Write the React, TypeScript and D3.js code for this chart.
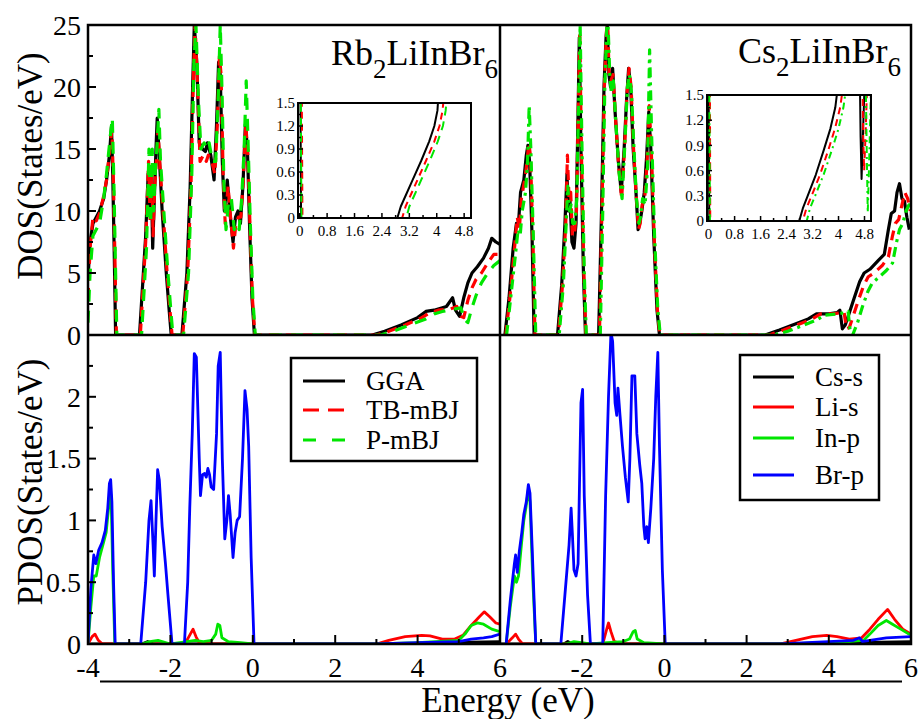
import * as d3 from "d3";

// ---- data ----
type Pt = [number, number];

const rbGGA: Pt[] = [
  [-4.0, 4.5], [-3.95, 7.5], [-3.88, 9.0], [-3.8, 9.5], [-3.72, 10.0], [-3.62, 11.0], [-3.55, 12.5], [-3.48, 14.5], [-3.43, 16.8], [-3.4, 13], [-3.36, 6], [-3.33, 0],
  [-2.75, 0], [-2.6, 8], [-2.54, 13], [-2.5, 10], [-2.46, 12], [-2.43, 7], [-2.39, 11], [-2.35, 15], [-2.32, 17.5], [-2.28, 15], [-2.2, 10], [-2.1, 5], [-2.03, 2], [-1.98, 0],
  [-1.72, 0], [-1.6, 5], [-1.52, 12], [-1.46, 20], [-1.42, 25], [-1.36, 22], [-1.3, 15.5], [-1.22, 15], [-1.15, 14.8], [-1.1, 15.5], [-1.02, 14.5], [-0.94, 12.5], [-0.88, 17], [-0.83, 22], [-0.79, 21], [-0.74, 14], [-0.69, 10], [-0.62, 12.5], [-0.56, 10], [-0.48, 7.5], [-0.42, 9.5], [-0.36, 10], [-0.3, 9], [-0.24, 12], [-0.18, 17], [-0.13, 15], [-0.08, 9], [-0.02, 3], [0.04, 0],
  [2.9, 0], [3.2, 0.3], [3.6, 0.8], [4.0, 1.4], [4.2, 1.9], [4.4, 2.0], [4.7, 2.3], [4.85, 3.0], [4.92, 2.0], [5.02, 1.5], [5.12, 3.0], [5.22, 4.2], [5.32, 5.0], [5.45, 5.5], [5.6, 6.2], [5.72, 7.0], [5.8, 7.8], [5.9, 7.5], [6.0, 7.3],
];
const rbTB: Pt[] = [
  [-4.0, 3], [-3.95, 7], [-3.88, 9.5], [-3.8, 9.2], [-3.72, 9.8], [-3.62, 11.2], [-3.55, 12.5], [-3.47, 15], [-3.42, 16.5], [-3.38, 12], [-3.34, 5], [-3.31, 0],
  [-2.73, 0], [-2.6, 7.5], [-2.53, 14], [-2.49, 9], [-2.45, 13.5], [-2.42, 8], [-2.38, 12], [-2.34, 14], [-2.3, 16.5], [-2.26, 14], [-2.18, 10], [-2.08, 5], [-2.01, 2], [-1.96, 0],
  [-1.7, 0], [-1.58, 5], [-1.5, 12], [-1.44, 21], [-1.4, 25], [-1.34, 20], [-1.28, 14], [-1.2, 14.5], [-1.13, 14], [-1.08, 14.5], [-1.0, 14], [-0.92, 13], [-0.86, 17], [-0.81, 22.5], [-0.77, 21], [-0.72, 13], [-0.67, 9], [-0.6, 12], [-0.54, 9.5], [-0.47, 7], [-0.41, 9], [-0.35, 9.5], [-0.29, 9.5], [-0.23, 12.5], [-0.17, 17], [-0.12, 14.5], [-0.07, 9], [-0.01, 3], [0.05, 0],
  [3.0, 0], [3.3, 0.3], [3.7, 0.8], [4.1, 1.4], [4.3, 1.8], [4.5, 2.0], [4.8, 2.1], [4.95, 2.3], [5.05, 1.5], [5.12, 1.4], [5.22, 2.8], [5.32, 3.8], [5.42, 4.5], [5.55, 5.0], [5.7, 5.8], [5.85, 6.5], [6.0, 6.5],
];
const rbPM: Pt[] = [
  [-4.0, 1], [-3.95, 5], [-3.88, 8], [-3.8, 8.5], [-3.72, 9.0], [-3.62, 11], [-3.55, 13], [-3.46, 16], [-3.41, 17.5], [-3.37, 12], [-3.33, 5], [-3.3, 0],
  [-2.7, 0], [-2.58, 7], [-2.52, 15], [-2.48, 9], [-2.44, 15], [-2.41, 10], [-2.37, 13], [-2.32, 15.5], [-2.28, 18.2], [-2.24, 14], [-2.16, 10], [-2.06, 5], [-1.99, 2], [-1.94, 0],
  [-1.68, 0], [-1.56, 5], [-1.48, 13], [-1.43, 22], [-1.38, 25], [-1.32, 19], [-1.26, 15], [-1.18, 15.5], [-1.11, 15], [-1.06, 15.5], [-0.98, 14], [-0.9, 14], [-0.84, 19], [-0.79, 25], [-0.75, 20], [-0.7, 12], [-0.65, 8.5], [-0.58, 11], [-0.52, 11], [-0.45, 8.5], [-0.39, 9], [-0.33, 8.5], [-0.27, 11], [-0.21, 15], [-0.16, 20.5], [-0.11, 15], [-0.06, 9], [0.0, 3], [0.06, 0],
  [3.1, 0], [3.4, 0.3], [3.8, 0.8], [4.2, 1.3], [4.4, 1.7], [4.6, 1.9], [4.9, 2.1], [5.05, 2.2], [5.15, 1.2], [5.22, 1.0], [5.32, 2.2], [5.42, 3.2], [5.55, 4.2], [5.7, 5.0], [5.85, 5.6], [6.0, 6.0],
];

const csGGA: Pt[] = [
  [-3.88, 0], [-3.78, 3], [-3.68, 7], [-3.6, 9], [-3.55, 9], [-3.5, 11.5], [-3.42, 12.5], [-3.36, 14.5], [-3.32, 15.3], [-3.28, 14], [-3.22, 8], [-3.17, 0],
  [-2.6, 0], [-2.5, 4], [-2.42, 9], [-2.37, 13], [-2.34, 10], [-2.3, 11], [-2.25, 7.5], [-2.2, 7], [-2.15, 9], [-2.1, 18], [-2.07, 24], [-2.03, 15], [-1.97, 5], [-1.92, 0],
  [-1.6, 0], [-1.53, 10], [-1.47, 20], [-1.42, 24], [-1.39, 25], [-1.35, 21], [-1.31, 20], [-1.26, 21.5], [-1.2, 18], [-1.12, 14], [-1.05, 11.5], [-0.98, 15], [-0.92, 19], [-0.87, 21.5], [-0.82, 20], [-0.76, 15], [-0.7, 12], [-0.64, 8.5], [-0.6, 9], [-0.55, 10], [-0.49, 11.5], [-0.43, 14.5], [-0.38, 18], [-0.33, 15], [-0.26, 8], [-0.18, 2], [-0.12, 0],
  [2.45, 0], [2.8, 0.4], [3.2, 0.9], [3.5, 1.3], [3.7, 1.7], [4.0, 1.7], [4.2, 1.8], [4.27, 2.0], [4.33, 0.5], [4.4, 0.8], [4.5, 1.8], [4.62, 3.0], [4.75, 4.3], [4.86, 5.0], [5.0, 5.3], [5.2, 6.0], [5.35, 6.5], [5.45, 8.5], [5.52, 9.8], [5.6, 10], [5.66, 11.5], [5.72, 12.2], [5.78, 11], [5.84, 10.8], [5.9, 9.5], [5.96, 8.5],
];
const csTB: Pt[] = [
  [-3.86, 0], [-3.76, 3], [-3.66, 6.5], [-3.58, 9.5], [-3.53, 8.5], [-3.48, 11], [-3.4, 12.5], [-3.34, 14], [-3.3, 15.5], [-3.26, 14.5], [-3.2, 8], [-3.15, 0],
  [-2.58, 0], [-2.48, 4], [-2.4, 9], [-2.36, 14.5], [-2.32, 11], [-2.28, 11.5], [-2.24, 8], [-2.19, 8], [-2.14, 10], [-2.09, 19], [-2.06, 24.5], [-2.02, 15], [-1.96, 5], [-1.91, 0],
  [-1.58, 0], [-1.52, 10], [-1.46, 20], [-1.41, 24.5], [-1.38, 25], [-1.34, 20.5], [-1.3, 20.5], [-1.25, 21], [-1.19, 17.5], [-1.11, 13.5], [-1.04, 11], [-0.97, 15], [-0.91, 19.5], [-0.86, 21.5], [-0.81, 20], [-0.75, 15], [-0.69, 11.5], [-0.63, 8.5], [-0.59, 9], [-0.54, 10.5], [-0.48, 11], [-0.42, 14], [-0.37, 18.5], [-0.32, 15], [-0.25, 8], [-0.17, 2], [-0.11, 0],
  [2.55, 0], [2.9, 0.4], [3.3, 0.9], [3.6, 1.3], [3.8, 1.7], [4.1, 1.7], [4.3, 1.8], [4.37, 1.9], [4.43, 0.5], [4.5, 0.6], [4.6, 1.6], [4.72, 2.8], [4.85, 4.0], [4.96, 4.7], [5.1, 5.0], [5.3, 5.6], [5.45, 6.3], [5.55, 8.0], [5.62, 9.0], [5.7, 9.3], [5.78, 10.5], [5.85, 11.5], [5.92, 11.0], [5.98, 10.0],
];
const csPM: Pt[] = [
  [-3.84, 0], [-3.74, 3], [-3.64, 6], [-3.56, 8.5], [-3.51, 8], [-3.46, 10], [-3.38, 11.5], [-3.33, 14], [-3.29, 18.5], [-3.25, 15], [-3.19, 8], [-3.13, 0],
  [-2.56, 0], [-2.46, 4], [-2.39, 9], [-2.35, 12], [-2.31, 10], [-2.27, 10.5], [-2.23, 9], [-2.18, 9], [-2.13, 11], [-2.08, 20], [-2.05, 25], [-2.01, 16], [-1.95, 5], [-1.9, 0],
  [-1.56, 0], [-1.5, 10], [-1.45, 20], [-1.4, 25], [-1.37, 25], [-1.33, 21], [-1.29, 19.5], [-1.24, 20.5], [-1.18, 17], [-1.1, 13], [-1.03, 11], [-0.96, 15.5], [-0.9, 20], [-0.85, 21], [-0.8, 19.5], [-0.74, 15], [-0.68, 11], [-0.62, 9], [-0.58, 9.5], [-0.53, 11], [-0.47, 10.5], [-0.41, 13.5], [-0.36, 23], [-0.31, 16], [-0.24, 8], [-0.16, 2], [-0.1, 0],
  [2.65, 0], [3.0, 0.3], [3.4, 0.8], [3.7, 1.2], [3.9, 1.6], [4.2, 1.7], [4.4, 1.8], [4.47, 1.9], [4.52, 0.3], [4.58, 0], [4.7, 1.0], [4.82, 2.3], [4.95, 3.5], [5.06, 4.2], [5.2, 4.6], [5.4, 5.2], [5.55, 5.8], [5.65, 7.5], [5.72, 8.5], [5.8, 9.0], [5.88, 10.0], [5.95, 10.5], [6.0, 10.2],
];

// insets (band-gap zoom)
const rbInGGA: Pt[] = [[0.02, 1.7], [0.04, 0], [2.85, 0], [2.95, 0.15], [3.1, 0.3], [3.3, 0.5], [3.55, 0.75], [3.78, 1.0], [3.93, 1.2], [4.02, 1.4], [4.05, 1.6]];
const rbInTB: Pt[] = [[0.06, 1.7], [0.08, 0], [2.99, 0], [3.09, 0.15], [3.24, 0.3], [3.44, 0.5], [3.69, 0.75], [3.93, 1.0], [4.08, 1.2], [4.17, 1.4], [4.21, 1.6]];
const rbInPM: Pt[] = [[0.03, 1.7], [0.05, 0], [3.11, 0], [3.2, 0.15], [3.35, 0.3], [3.55, 0.5], [3.8, 0.75], [4.03, 1.0], [4.18, 1.2], [4.26, 1.4], [4.3, 1.6]];
const csInGGA: Pt[] = [[0.0, 1.7], [0.02, 0], [2.79, 0], [2.9, 0.15], [3.05, 0.3], [3.3, 0.55], [3.55, 0.85], [3.75, 1.1], [3.9, 1.35], [3.98, 1.6], [4.66, 1.6], [4.68, 1.0], [4.71, 0.5], [4.75, 1.0], [4.8, 1.6]];
const csInTB: Pt[] = [[0.04, 1.7], [0.05, 0], [2.9, 0], [3.01, 0.15], [3.17, 0.3], [3.43, 0.55], [3.69, 0.85], [3.89, 1.1], [4.05, 1.35], [4.14, 1.6], [4.74, 1.6], [4.76, 1.0], [4.79, 0.6], [4.83, 1.0], [4.88, 1.6]];
const csInPM: Pt[] = [[0.02, 1.7], [0.04, 0], [3.02, 0], [3.12, 0.15], [3.28, 0.3], [3.54, 0.55], [3.8, 0.85], [4.0, 1.1], [4.15, 1.35], [4.24, 1.6], [4.84, 1.6], [4.87, 0.8], [4.9, 0.1], [4.95, 0.8], [5.0, 1.6]];

// partial DOS
const rbS: Pt[] = [[-4, 0], [-2.7, 0], [-2.55, 0.02], [-2.4, 0], [3.5, 0], [4.5, 0.01], [6.0, 0.02]];
const rbLi: Pt[] = [
  [-4.0, 0], [-3.9, 0.06], [-3.83, 0.08], [-3.75, 0.03], [-3.65, 0], [-1.65, 0], [-1.55, 0.06], [-1.45, 0.12], [-1.38, 0.06], [-1.3, 0.01], [-1.0, 0],
  [3.0, 0], [3.3, 0.03], [3.7, 0.06], [4.1, 0.07], [4.3, 0.065], [4.6, 0.04], [4.9, 0.04], [5.1, 0.07], [5.3, 0.15], [5.5, 0.22], [5.62, 0.26], [5.75, 0.22], [5.9, 0.17], [6.0, 0.16],
];
const rbIn: Pt[] = [
  [-4.0, 0], [-3.93, 0.3], [-3.86, 0.55], [-3.8, 0.55], [-3.72, 0.7], [-3.64, 0.8], [-3.56, 0.9], [-3.5, 1.1], [-3.47, 1.25], [-3.44, 1.2], [-3.4, 0.6], [-3.35, 0],
  [-2.7, 0], [-2.5, 0.02], [-2.3, 0.03], [-2.0, 0], [-1.6, 0.02], [-1.4, 0.03], [-1.2, 0.02], [-1.0, 0.03], [-0.9, 0.08], [-0.85, 0.16], [-0.8, 0.15], [-0.75, 0.05], [-0.6, 0.02], [-0.3, 0.01], [0.0, 0],
  [3.0, 0], [4.0, 0.01], [5.0, 0.03], [5.15, 0.08], [5.3, 0.15], [5.45, 0.17], [5.6, 0.16], [5.8, 0.12], [6.0, 0.1],
];
const rbBr: Pt[] = [
  [-4.0, 0], [-3.93, 0.45], [-3.86, 0.72], [-3.81, 0.65], [-3.74, 0.76], [-3.66, 0.82], [-3.58, 0.92], [-3.52, 1.1], [-3.48, 1.3], [-3.45, 1.33], [-3.42, 1.15], [-3.38, 0.5], [-3.34, 0],
  [-2.72, 0], [-2.6, 0.5], [-2.52, 1.0], [-2.47, 1.16], [-2.42, 0.8], [-2.39, 0.55], [-2.35, 1.0], [-2.31, 1.41], [-2.27, 1.33], [-2.2, 0.95], [-2.12, 0.65], [-2.06, 0.4], [-1.96, 0],
  [-1.66, 0], [-1.58, 0.5], [-1.53, 1.1], [-1.47, 1.7], [-1.42, 2.35], [-1.37, 2.32], [-1.3, 1.5], [-1.27, 1.2], [-1.22, 1.37], [-1.17, 1.38], [-1.13, 1.35], [-1.09, 1.42], [-1.05, 1.37], [-1.01, 1.27], [-0.95, 1.25], [-0.88, 1.7], [-0.84, 2.25], [-0.79, 2.36], [-0.74, 1.5], [-0.68, 0.85], [-0.63, 1.0], [-0.59, 1.2], [-0.55, 1.05], [-0.48, 0.7], [-0.43, 0.9], [-0.38, 1.0], [-0.32, 1.03], [-0.25, 1.5], [-0.19, 2.05], [-0.14, 1.9], [-0.1, 1.6], [-0.04, 0.7], [0.03, 0],
  [3.0, 0], [4.0, 0.01], [5.0, 0.02], [5.3, 0.04], [5.6, 0.05], [5.8, 0.06], [6.0, 0.08],
];

const csS: Pt[] = [[-4, 0], [-2.45, 0], [-2.35, 0.02], [-2.25, 0], [3.5, 0], [4.5, 0.01], [6.0, 0.02]];
const csLi: Pt[] = [
  [-3.85, 0], [-3.7, 0.05], [-3.62, 0.08], [-3.55, 0.04], [-3.45, 0], [-1.5, 0], [-1.42, 0.1], [-1.36, 0.17], [-1.3, 0.1], [-1.22, 0.02], [-1.0, 0],
  [2.8, 0], [3.2, 0.03], [3.6, 0.06], [3.95, 0.07], [4.2, 0.06], [4.5, 0.04], [4.8, 0.05], [5.0, 0.12], [5.2, 0.2], [5.43, 0.28], [5.6, 0.2], [5.8, 0.12], [6.0, 0.08],
];
const csIn: Pt[] = [
  [-3.85, 0], [-3.75, 0.3], [-3.65, 0.55], [-3.6, 0.5], [-3.55, 0.55], [-3.48, 0.8], [-3.42, 1.0], [-3.37, 1.1], [-3.31, 1.25], [-3.27, 1.15], [-3.2, 0.5], [-3.13, 0],
  [-2.4, 0], [-2.2, 0.02], [-1.8, 0], [-1.4, 0.01], [-1.0, 0.02], [-0.85, 0.04], [-0.76, 0.1], [-0.71, 0.11], [-0.66, 0.04], [-0.5, 0.01], [0, 0],
  [3.0, 0], [4.5, 0.02], [4.85, 0.03], [5.0, 0.08], [5.2, 0.15], [5.4, 0.19], [5.55, 0.16], [5.75, 0.12], [5.95, 0.08], [6.0, 0.08],
];
const csBr: Pt[] = [
  [-3.85, 0], [-3.75, 0.35], [-3.65, 0.65], [-3.62, 0.72], [-3.58, 0.58], [-3.53, 0.75], [-3.47, 0.9], [-3.42, 1.05], [-3.36, 1.15], [-3.31, 1.29], [-3.27, 1.22], [-3.22, 0.8], [-3.13, 0],
  [-2.52, 0], [-2.42, 0.4], [-2.32, 0.8], [-2.27, 1.1], [-2.24, 0.9], [-2.2, 0.6], [-2.15, 0.55], [-2.1, 0.65], [-2.06, 1.4], [-2.03, 1.95], [-1.99, 2.06], [-1.95, 1.2], [-1.87, 0.4], [-1.8, 0],
  [-1.5, 0], [-1.43, 1.2], [-1.36, 2.0], [-1.3, 2.52], [-1.26, 2.45], [-1.2, 1.95], [-1.16, 1.85], [-1.13, 2.07], [-1.08, 1.85], [-1.02, 1.6], [-0.95, 1.35], [-0.88, 1.15], [-0.84, 1.5], [-0.79, 2.17], [-0.72, 2.17], [-0.67, 1.7], [-0.6, 1.45], [-0.55, 1.3], [-0.5, 0.95], [-0.47, 0.85], [-0.43, 0.95], [-0.39, 0.82], [-0.33, 1.1], [-0.26, 1.5], [-0.21, 2.0], [-0.16, 2.36], [-0.12, 1.6], [-0.05, 0.6], [0.02, 0],
  [2.8, 0], [4.0, 0.02], [4.6, 0.03], [4.75, 0.05], [4.82, 0.02], [5.0, 0.03], [5.4, 0.05], [6.0, 0.06],
];

const energyTicks = [-4, -2, 0, 2, 4, 6];
const energyMinor = [-3, -1, 1, 3, 5];
const dosTicks = [0, 5, 10, 15, 20, 25];
const pdosTicks = [0, 0.5, 1, 1.5, 2];
const insetXTicks = [0, 0.8, 1.6, 2.4, 3.2, 4, 4.8];
const insetYTicks = [0, 0.3, 0.6, 0.9, 1.2, 1.5];
const methods = ["GGA", "TB-mBJ", "P-mBJ"];
const orbitals = ["Cs-s", "Li-s", "In-p", "Br-p"];

// ---- layout ----
const L = 88, M = 500, R = 911, T = 25, MID = 335, B = 644;
const FONT = "'Liberation Serif', 'Times New Roman', serif";

const xLeft = d3.scaleLinear().domain([-4, 6]).range([L, M]);
const xRight = d3.scaleLinear().domain([-4, 6]).range([M, R]);
const yDos = d3.scaleLinear().domain([0, 25]).range([MID, T]);
const yPdos = d3.scaleLinear().domain([0, 2.5]).range([B, MID]);

const RED = "#ff0000", GREEN = "#00e600", BLUE = "#0000ff";

function Curve({ data, x, y, color, width = 3.2, dash }: any) {
  const line = d3.line<Pt>().x((d) => x(d[0])).y((d) => y(d[1]));
  return <path d={line(data) || ""} fill="none" stroke={color} strokeWidth={width} strokeDasharray={dash} strokeLinejoin="round" />;
}

function Inset({ id, x0, x1, y0, y1, series }: any) {
  const ix = d3.scaleLinear().domain([-0.05, 5]).range([x0, x1]);
  const iy = d3.scaleLinear().domain([0, 1.5]).range([y1, y0]);
  const minorX = d3.range(0.4, 4.9, 0.8);
  const minorY = d3.range(0.15, 1.5, 0.3);
  return (
    <g>
      <clipPath id={id}><rect x={x0} y={y0} width={x1 - x0} height={y1 - y0} /></clipPath>
      <rect x={x0} y={y0} width={x1 - x0} height={y1 - y0} fill="#fff" />
      <g clipPath={`url(#${id})`}>
        {series.map((s: any, i: number) => (
          <Curve key={i} data={s.data} x={ix} y={iy} color={s.color} width={2} dash={s.dash} />
        ))}
      </g>
      {insetXTicks.map((t) => (
        <g key={"x" + t}>
          <line x1={ix(t)} x2={ix(t)} y1={y1} y2={y1 - 5} stroke="#000" strokeWidth={1.5} />
          <text x={ix(t)} y={y1 + 18} textAnchor="middle" fontSize={15} fontFamily={FONT}>{t}</text>
        </g>
      ))}
      {minorX.map((t) => <line key={"mx" + t} x1={ix(t)} x2={ix(t)} y1={y1} y2={y1 - 3} stroke="#000" strokeWidth={1.5} />)}
      {insetYTicks.map((t) => (
        <g key={"y" + t}>
          <line x1={x0} x2={x0 + 5} y1={iy(t)} y2={iy(t)} stroke="#000" strokeWidth={1.5} />
          <text x={x0 - 3} y={iy(t)} dy="0.35em" textAnchor="end" fontSize={15} fontFamily={FONT}>{t}</text>
        </g>
      ))}
      {minorY.map((t) => <line key={"my" + t} x1={x0} x2={x0 + 3} y1={iy(t)} y2={iy(t)} stroke="#000" strokeWidth={1.5} />)}
      <rect x={x0} y={y0} width={x1 - x0} height={y1 - y0} fill="none" stroke="#000" strokeWidth={2} />
    </g>
  );
}

export default function App() {
  const dashTB = "10,7";
  const dashPM = "12,9";
  const dashDot = "10,5,3,5";
  const dosMinor = d3.range(2.5, 25, 5);
  const pdosMinor = d3.range(0.25, 2.5, 0.5);

  return (
    <svg width={919} height={719} style={{ position: "absolute", left: 0, top: 0 }} fontFamily={FONT}>
      <rect width={919} height={719} fill="#fff" />
      <defs>
        <clipPath id="cTL"><rect x={L} y={T} width={M - L} height={MID - T} /></clipPath>
        <clipPath id="cTR"><rect x={M} y={T} width={R - M} height={MID - T} /></clipPath>
        <clipPath id="cBL"><rect x={L} y={MID} width={M - L} height={B - MID} /></clipPath>
        <clipPath id="cBR"><rect x={M} y={MID} width={R - M} height={B - MID} /></clipPath>
      </defs>

      {/* total DOS */}
      <g clipPath="url(#cTL)">
        <Curve data={rbGGA} x={xLeft} y={yDos} color="#000" />
        <Curve data={rbTB} x={xLeft} y={yDos} color={RED} dash={dashTB} />
        <Curve data={rbPM} x={xLeft} y={yDos} color={GREEN} dash={dashPM} />
      </g>
      <g clipPath="url(#cTR)">
        <Curve data={csGGA} x={xRight} y={yDos} color="#000" />
        <Curve data={csTB} x={xRight} y={yDos} color={RED} dash={dashTB} />
        <Curve data={csPM} x={xRight} y={yDos} color={GREEN} dash={dashDot} />
      </g>

      {/* partial DOS */}
      <g clipPath="url(#cBL)">
        <Curve data={rbS} x={xLeft} y={yPdos} color="#000" width={2.8} />
        <Curve data={rbLi} x={xLeft} y={yPdos} color={RED} width={2.8} />
        <Curve data={rbIn} x={xLeft} y={yPdos} color={GREEN} width={2.8} />
        <Curve data={rbBr} x={xLeft} y={yPdos} color={BLUE} width={2.8} />
      </g>
      <g clipPath="url(#cBR)">
        <Curve data={csS} x={xRight} y={yPdos} color="#000" width={2.8} />
        <Curve data={csLi} x={xRight} y={yPdos} color={RED} width={2.8} />
        <Curve data={csIn} x={xRight} y={yPdos} color={GREEN} width={2.8} />
        <Curve data={csBr} x={xRight} y={yPdos} color={BLUE} width={2.8} />
      </g>

      {/* frame */}
      <rect x={L} y={T} width={R - L} height={B - T} fill="none" stroke="#000" strokeWidth={2.5} />
      <line x1={M} x2={M} y1={T} y2={B} stroke="#000" strokeWidth={2.5} />
      <line x1={L} x2={R} y1={MID} y2={MID} stroke="#000" strokeWidth={2.5} />

      {/* y axes */}
      {dosTicks.map((t) => (
        <g key={"d" + t}>
          <line x1={L} x2={L + 8} y1={yDos(t)} y2={yDos(t)} stroke="#000" strokeWidth={2} />
          <text x={81} y={yDos(t)} dy="0.35em" textAnchor="end" fontSize={28}>{t}</text>
        </g>
      ))}
      {dosMinor.map((t) => <line key={"dm" + t} x1={L} x2={L + 5} y1={yDos(t)} y2={yDos(t)} stroke="#000" strokeWidth={2} />)}
      {pdosTicks.map((t) => (
        <g key={"p" + t}>
          <line x1={L} x2={L + 8} y1={yPdos(t)} y2={yPdos(t)} stroke="#000" strokeWidth={2} />
          <text x={81} y={yPdos(t)} dy="0.35em" textAnchor="end" fontSize={28}>{t}</text>
        </g>
      ))}
      {pdosMinor.map((t) => <line key={"pm" + t} x1={L} x2={L + 5} y1={yPdos(t)} y2={yPdos(t)} stroke="#000" strokeWidth={2} />)}

      {/* x axes */}
      {[xLeft, xRight].map((sx, k) => (
        <g key={"xa" + k}>
          {energyTicks.map((t) => (
            <line key={t} x1={sx(t)} x2={sx(t)} y1={B} y2={B - 9} stroke="#000" strokeWidth={2} />
          ))}
          {energyMinor.map((t) => (
            <line key={"m" + t} x1={sx(t)} x2={sx(t)} y1={B} y2={B - 5} stroke="#000" strokeWidth={2} />
          ))}
          {energyTicks.filter((t) => k === 0 || t !== -4).map((t) => (
            <text key={"l" + t} x={sx(t)} y={677} textAnchor="middle" fontSize={28}>{t}</text>
          ))}
        </g>
      ))}
      <line x1={100} x2={902} y1={681.5} y2={681.5} stroke="#000" strokeWidth={2} />
      <text x={508} y={712} textAnchor="middle" fontSize={35}>Energy (eV)</text>
      <text transform="translate(42,166) rotate(-90)" textAnchor="middle" fontSize={35}>DOS(States/eV)</text>
      <text transform="translate(42,482) rotate(-90)" textAnchor="middle" fontSize={35}>PDOS(States/eV)</text>

      {/* titles */}
      <text x={498} y={65} textAnchor="end" fontSize={36}>
        Rb<tspan fontSize={27} dy={13}>2</tspan><tspan dy={-13}>LiInBr</tspan><tspan fontSize={27} dy={13}>6</tspan>
      </text>
      <text x={901} y={63} textAnchor="end" fontSize={36}>
        Cs<tspan fontSize={27} dy={13}>2</tspan><tspan dy={-13}>LiInBr</tspan><tspan fontSize={27} dy={13}>6</tspan>
      </text>

      {/* insets */}
      <Inset id="iL" x0={298} x1={471} y0={103} y1={218} series={[
        { data: rbInGGA, color: "#000" },
        { data: rbInTB, color: RED, dash: "7,5" },
        { data: rbInPM, color: GREEN, dash: "9,6" },
      ]} />
      <Inset id="iR" x0={707} x1={871} y0={95} y1={221} series={[
        { data: csInGGA, color: "#000" },
        { data: csInTB, color: RED, dash: "7,5" },
        { data: csInPM, color: GREEN, dash: "7,4,2,4" },
      ]} />

      {/* legends */}
      <rect x={291} y={358} width={186} height={103} fill="#fff" stroke="#000" strokeWidth={2.5} />
      {methods.map((m, i) => {
        const yy = [381, 410, 440][i];
        const col = ["#000", RED, GREEN][i];
        const dash = [undefined, "16,9", "13,16"][i];
        return (
          <g key={m}>
            <line x1={303} x2={345} y1={yy} y2={yy} stroke={col} strokeWidth={3} strokeDasharray={dash} />
            <text x={366} y={yy} dy="0.35em" fontSize={27}>{m}</text>
          </g>
        );
      })}
      <rect x={740} y={355} width={139} height={145} fill="#fff" stroke="#000" strokeWidth={2.5} />
      {orbitals.map((o, i) => {
        const yy = [377, 407, 438, 475][i];
        const col = ["#000", RED, GREEN, BLUE][i];
        return (
          <g key={o}>
            <line x1={753} x2={794} y1={yy} y2={yy} stroke={col} strokeWidth={3} />
            <text x={815} y={yy} dy="0.35em" fontSize={27}>{o}</text>
          </g>
        );
      })}
    </svg>
  );
}
